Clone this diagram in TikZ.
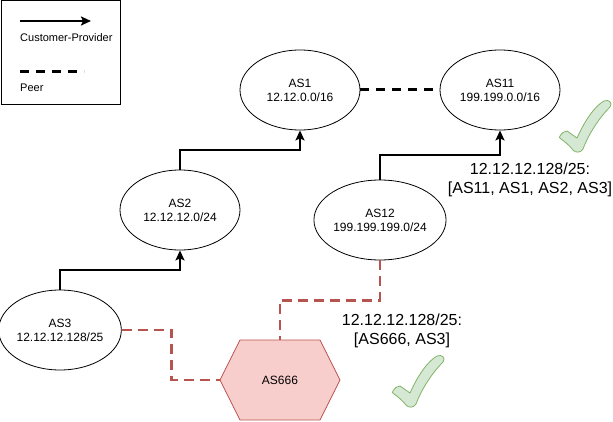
\documentclass[tikz,border=0pt]{standalone}
\usepackage{fontspec}
\setmainfont{Liberation Sans}
\usetikzlibrary{shapes.geometric,arrows.meta}
\definecolor{redstroke}{HTML}{B85450}
\definecolor{redfill}{HTML}{F8CECC}
\definecolor{greenstroke}{HTML}{82B366}
\definecolor{greenfill}{HTML}{D5E8D4}
\begin{document}
\begin{tikzpicture}[x=1pt,y=-1pt,
  asnode/.style={ellipse,draw,line width=0.8pt,minimum width=120pt,minimum height=80pt,inner sep=0pt,align=center,font=\fontsize{12}{14}\selectfont},
  cp/.style={line width=2pt,-{Stealth[length=10pt,width=9pt,inset=2pt]}},
  peerline/.style={line width=3pt,dash pattern=on 9pt off 7pt},
  attackline/.style={line width=2.5pt,redstroke,dash pattern=on 10pt off 6pt},
  routelabel/.style={align=center,font=\fontsize{16}{19}\selectfont},
  legendtext/.style={anchor=west,inner sep=0pt,font=\fontsize{11}{13}\selectfont},
  checkmark/.pic={
    \path[draw=greenstroke,fill=greenfill,line width=0.8pt,line join=round]
      (0,36) .. controls (2,33) and (4,31) .. (7,31)
      -- (17,38)
      .. controls (25,20) and (35,6) .. (44,1)
      .. controls (49,-1) and (53,3) .. (50,7)
      .. controls (40,17) and (29,33) .. (23,49)
      .. controls (21,53) and (15,53) .. (13,50)
      .. controls (9,45) and (4,41) .. (1,39)
      .. controls (-1,38) and (-1,37) .. (0,36) -- cycle;
  }
]
\useasboundingbox (0,0) rectangle (613,422);
% legend
\node[draw,line width=0.8pt,minimum width=119pt,minimum height=104pt,inner sep=0pt,anchor=north west] (legend) at (0.5,0.5) {};
\coordinate (la1) at (20,21);
\coordinate (la2) at (91,21);
\draw[cp] (la1) -- (la2);
\node[legendtext] (lcp) at (20,38) {Customer-Provider};
\coordinate (lp1) at (20,72);
\coordinate (lp2) at (84,72);
\draw[peerline] (lp1) -- (lp2);
\node[legendtext] (lpeer) at (20,88) {Peer};
% AS nodes
\node[asnode] (as1) at (300,90) {AS1\\12.12.0.0/16};
\node[asnode] (as11) at (500,90) {AS11\\199.199.0.0/16};
\node[asnode] (as2) at (180,210) {AS2\\12.12.12.0/24};
\node[asnode] (as12) at (380,220) {AS12\\199.199.199.0/24};
\node[asnode] (as3) at (60,330) {AS3\\12.12.12.128/25};
% hexagon AS666
\draw[redstroke,fill=redfill,line width=0.8pt] (240,340) -- (320,340) -- (340,380) -- (320,420) -- (240,420) -- (220,380) -- cycle;
\node[font=\fontsize{12}{14}\selectfont] (as666) at (280,380) {AS666};
\coordinate (hextop) at (280,340);
\coordinate (hexleft) at (220,380);
% connectors
\draw[cp] (as3.north) -- ++(0,-20) -| (as2.south);
\draw[cp] (as2.north) -- ++(0,-20) -| (as1.south);
\draw[cp] (as12.north) -- ++(0,-25) -| (as11.south);
\draw[peerline] (as1.east) -- (as11.west);
\draw[attackline] (as3.east) -- ++(50,0) |- (hexleft);
\draw[attackline] (as12.south) -- ++(0,40) -| (hextop);
% labels
\node[routelabel] (lab1) at (530,180) {12.12.12.128/25:\\{[AS11, AS1, AS2, AS3]}};
\node[routelabel] (lab2) at (402,331) {12.12.12.128/25:\\{[AS666, AS3]}};
% check marks
\pic at (560,100) {checkmark};
\pic at (393,355) {checkmark};
\end{tikzpicture}
\end{document}
